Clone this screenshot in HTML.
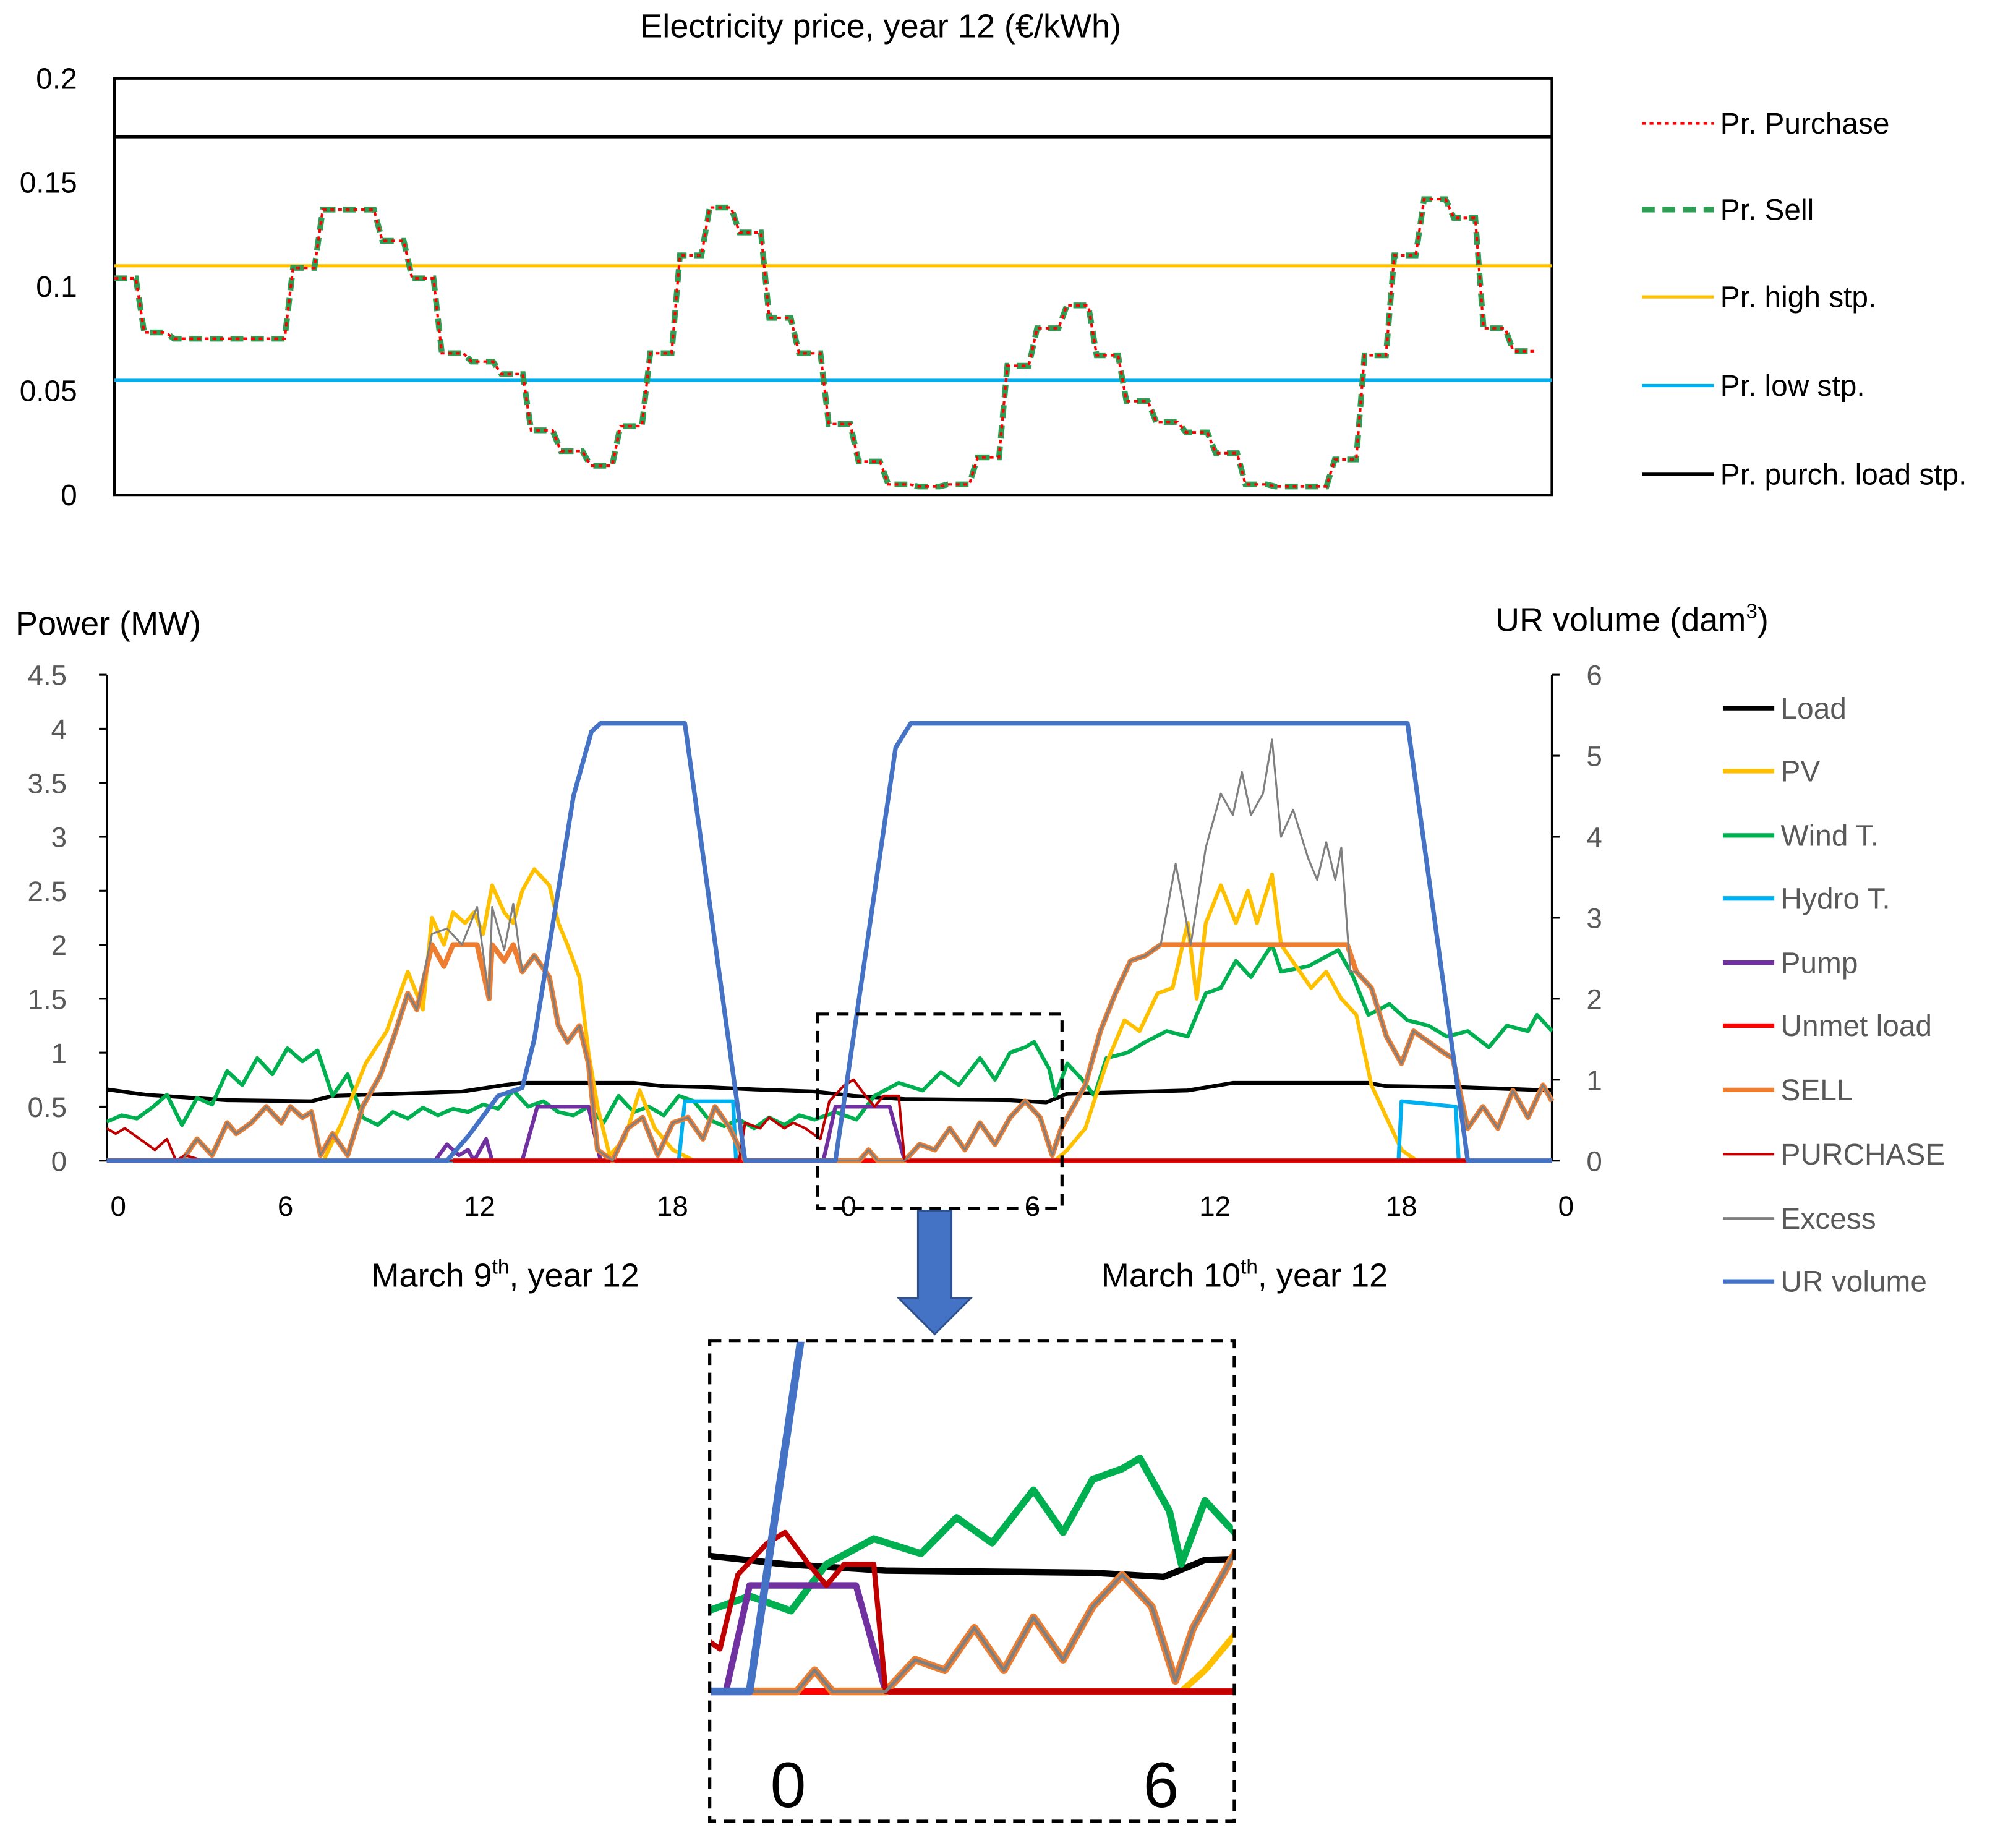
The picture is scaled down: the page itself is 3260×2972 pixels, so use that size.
<!DOCTYPE html>
<html><head><meta charset="utf-8"><style>
html,body{margin:0;padding:0;background:#fff;}
svg{display:block;}
text{font-family:"Liberation Sans",sans-serif;}
</style></head><body>
<svg id="fig" width="3260" height="2972" viewBox="0 0 1568 1430" preserveAspectRatio="none" xmlns="http://www.w3.org/2000/svg">
<defs>
<clipPath id="mainClip"><rect x="83" y="500" width="1126" height="406"/></clipPath>
<clipPath id="insetClip"><rect x="553" y="1044" width="406" height="372"/></clipPath>
</defs>
<g id="topChart"></g>
<g id="bottomChart"></g>
<g id="insetChart"></g>
</svg>
<script>
// ---------- Price chart data ----------
const priceHours = [0,1,2,3,4,5,6,7,8,9,10,11,12,13,14,15,16,17,18,19,20,21,22,23,24,25,26,27,28,29,30,31,32,33,34,35,36,37,38,39,40,41,42,43,44,45,46,47];
const pricePurchase = [0.104,0.078,0.075,0.075,0.075,0.075,0.109,0.137,0.137,0.122,0.104,0.068,0.064,0.058,0.031,0.021,0.014,0.033,0.068,0.115,0.138,0.126,0.085,0.068,0.034,0.016,0.005,0.004,0.005,0.018,0.062,0.080,0.091,0.067,0.045,0.035,0.030,0.020,0.005,0.004,0.004,0.017,0.067,0.115,0.142,0.133,0.080,0.069];
const priceSell = [0.104,0.078,0.075,0.075,0.075,0.075,0.109,0.137,0.137,0.122,0.104,0.068,0.064,0.058,0.031,0.021,0.014,0.033,0.068,0.115,0.138,0.126,0.085,0.068,0.034,0.016,0.005,0.004,0.005,0.018,0.062,0.080,0.091,0.067,0.045,0.035,0.030,0.020,0.005,0.004,0.004,0.017,0.067,0.115,0.142,0.133,0.080,0.069];
const priceHighStp = 0.110;
const priceLowStp = 0.055;
const pricePurchLoadStp = 0.172;
const priceTicks = ["0","0.05","0.1","0.15","0.2"];
const priceTickVals = [0,0.05,0.1,0.15,0.2];

// ---------- Power chart data (t in hours, 0..48) ----------
const loadT = [0,1.3,4,6.8,7.5,11.8,13.2,13.8,17.5,18.5,20,21.5,23.5,24.8,26.5,30,31.2,31.9,35.9,37.4,41.9,42.5,45,48];
const loadV = [0.66,0.61,0.56,0.55,0.60,0.64,0.70,0.72,0.72,0.69,0.68,0.66,0.64,0.60,0.57,0.56,0.54,0.62,0.65,0.72,0.72,0.69,0.68,0.65];
const windT = [0,0.5,1,1.5,2,2.5,3,3.5,4,4.5,5,5.5,6,6.5,7,7.5,8,8.5,9,9.5,10,10.5,11,11.5,12,12.5,13,13.5,14,14.5,15,15.5,16,16.5,17,17.5,18,18.5,19,19.5,20,20.5,21,21.5,22,22.5,23,23.5,24.2,24.9,25.5,26.3,27.1,27.7,28.3,29,29.5,30,30.5,30.8,31.3,31.5,31.9,32.4,32.8,33.2,33.9,34.5,35.2,35.9,36.5,37,37.5,38,38.7,39,39.9,40.9,41.4,41.9,42.6,43.2,43.9,44.5,45.2,45.9,46.5,47.2,47.5,48];
const windV = [0.36,0.42,0.39,0.49,0.61,0.33,0.58,0.52,0.83,0.70,0.95,0.80,1.04,0.92,1.02,0.60,0.80,0.40,0.33,0.45,0.39,0.49,0.42,0.48,0.45,0.52,0.48,0.65,0.50,0.55,0.45,0.42,0.50,0.35,0.60,0.45,0.50,0.42,0.60,0.55,0.38,0.32,0.38,0.30,0.40,0.33,0.42,0.38,0.45,0.38,0.60,0.72,0.65,0.82,0.70,0.95,0.75,1.00,1.05,1.10,0.85,0.60,0.90,0.75,0.60,0.95,1.00,1.10,1.20,1.15,1.55,1.60,1.85,1.70,2.00,1.75,1.80,1.95,1.70,1.35,1.45,1.30,1.25,1.15,1.20,1.05,1.25,1.20,1.35,1.20];
const pvT = [0,7.2,7.8,8.6,9.3,10,10.5,10.8,11.2,11.5,11.9,12.2,12.5,12.8,13.2,13.5,13.8,14.2,14.7,15,15.3,15.7,16,16.3,16.7,17.2,17.7,18.2,18.8,19.5,31.5,31.9,32.5,33.2,33.8,34.3,34.9,35.4,35.9,36.2,36.5,37,37.5,37.9,38.2,38.7,39,39.5,40,40.5,41,41.5,42,42.5,43,43.5,48];
const pvV = [0,0,0.35,0.90,1.20,1.75,1.40,2.25,2.00,2.30,2.20,2.30,2.10,2.55,2.30,2.20,2.50,2.70,2.55,2.20,2.00,1.70,1.00,0.50,0.05,0.20,0.65,0.30,0.10,0,0,0.10,0.30,0.90,1.30,1.20,1.55,1.60,2.20,1.50,2.20,2.55,2.20,2.50,2.20,2.65,2.00,1.80,1.60,1.75,1.50,1.35,0.70,0.40,0.10,0,0];
const sellT = [0,2.5,3,3.5,4,4.3,4.8,5.3,5.8,6.1,6.5,6.8,7.1,7.5,8,8.5,9.1,9.6,10,10.3,10.8,11.2,11.5,12.3,12.7,12.8,13.2,13.5,13.8,14.2,14.7,15,15.3,15.7,16,16.3,16.8,17.3,17.8,18.3,18.8,19.3,19.8,20.2,20.7,21.2,25.0,25.3,25.6,26.5,27,27.5,28,28.5,29,29.5,30,30.5,31,31.4,31.7,32,32.5,33,33.5,34,34.5,35,41.2,41.5,42,42.5,43,43.4,43.9,44.4,44.7,45.2,45.7,46.2,46.7,47.2,47.7,48];
const sellV = [0,0,0.20,0.05,0.35,0.25,0.35,0.50,0.35,0.50,0.40,0.45,0.05,0.25,0.05,0.50,0.80,1.20,1.55,1.40,2.00,1.80,2.00,2.00,1.50,2.00,1.85,2.00,1.75,1.90,1.70,1.25,1.10,1.25,0.90,0.10,0,0.30,0.40,0.05,0.35,0.40,0.20,0.50,0.30,0,0,0.10,0,0,0.15,0.10,0.30,0.10,0.35,0.15,0.40,0.55,0.40,0.05,0.30,0.45,0.70,1.20,1.55,1.85,1.90,2.00,2.00,1.75,1.60,1.15,0.90,1.20,1.10,1.00,0.95,0.30,0.50,0.30,0.65,0.40,0.70,0.55];
const excessT = [0,2.5,3,3.5,4,4.3,4.8,5.3,5.8,6.1,6.5,6.8,7.1,7.5,8,8.5,9.1,9.6,10,10.3,10.8,11.3,11.8,12.3,12.7,12.8,13.2,13.5,13.8,14.2,14.7,15,15.3,15.7,16,16.3,16.8,17.3,17.8,18.3,18.8,19.3,19.8,20.2,20.7,21.2,25.0,25.3,25.6,26.5,27,27.5,28,28.5,29,29.5,30,30.5,31,31.4,31.7,32,32.5,33,33.5,34,34.5,35,35.5,36,36.5,37,37.4,37.7,38,38.4,38.7,39,39.4,39.9,40.2,40.5,40.8,41,41.3,41.5,42,42.5,43,43.4,43.9,44.4,44.7,45.2,45.7,46.2,46.7,47.2,47.7,48];
const excessV = [0,0,0.20,0.05,0.35,0.25,0.35,0.50,0.35,0.50,0.40,0.45,0.05,0.25,0.05,0.50,0.80,1.20,1.55,1.40,2.10,2.15,2.00,2.35,1.50,2.35,1.95,2.38,1.75,1.90,1.70,1.25,1.10,1.25,0.90,0.10,0,0.30,0.40,0.05,0.35,0.40,0.20,0.50,0.30,0,0,0.10,0,0,0.15,0.10,0.30,0.10,0.35,0.15,0.40,0.55,0.40,0.05,0.30,0.45,0.70,1.20,1.55,1.85,1.90,2.00,2.75,2.00,2.90,3.40,3.20,3.60,3.20,3.40,3.90,3.00,3.25,2.80,2.60,2.95,2.60,2.90,1.75,1.75,1.60,1.15,0.90,1.20,1.10,1.00,0.95,0.30,0.50,0.30,0.65,0.40,0.70,0.55];
const hydroT = [0,19.0,19.2,20.8,20.9,42.9,43.0,44.8,44.9,48];
const hydroV = [0,0,0.55,0.55,0,0,0.55,0.50,0,0];
const pumpT = [10.9,11.3,11.7,12.0,12.2,12.6,12.8,13.3,13.8,14.3,16.0,16.4,23.8,24.2,26.0,26.5];
const pumpV = [0,0.15,0.05,0.10,0,0.20,0,0,0,0.50,0.50,0,0,0.50,0.50,0];
const unmetT = [11.5,45.2];
const unmetV = [0,0];
const purchaseT = [0,0.3,0.6,1.1,1.6,2.0,2.3,2.6,3.2,21.0,21.2,21.7,22.0,22.5,22.8,23.2,23.7,24.0,24.5,24.8,25.2,25.5,25.8,26.3,26.5,48];
const purchaseV = [0.30,0.25,0.30,0.20,0.10,0.20,0,0.05,0,0,0.35,0.30,0.40,0.30,0.35,0.30,0.20,0.55,0.70,0.75,0.60,0.50,0.60,0.60,0,0];
const urT = [0,11.3,12,13,13.8,14.2,15.5,16.1,16.4,19.2,21.2,24.2,26.2,26.7,43.2,45.2,48];
const urV = [0,0,0.3,0.8,0.9,1.5,4.5,5.3,5.4,5.4,0,0,5.1,5.4,5.4,0,0];
const leftTicks = ["0","0.5","1","1.5","2","2.5","3","3.5","4","4.5"];
const leftTickVals = [0,0.5,1,1.5,2,2.5,3,3.5,4,4.5];
const rightTicks = ["0","1","2","3","4","5","6"];
const rightTickVals = [0,1,2,3,4,5,6];
const xTickLabels = ["0","6","12","18","0","6","12","18","0"];
const xTickHours = [0,6,12,18,24,30,36,42,48];

const NS = "http://www.w3.org/2000/svg";
function mk(parent, tag, attrs, txt) {
  const el = document.createElementNS(NS, tag);
  for (const k in attrs) el.setAttribute(k, attrs[k]);
  if (txt !== undefined) el.textContent = txt;
  parent.appendChild(el);
  return el;
}
function pathD(ts, vs, fx, fy) {
  return ts.map((tt, i) => (i ? "L" : "M") + fx(tt).toFixed(2) + " " + fy(vs[i]).toFixed(2)).join(" ");
}

// ---------- TOP CHART ----------
const topG = document.getElementById("topChart");
const pX = h => 89 + h * 23.15;
const pY = v => 385 - v * 1620;
let el0 = mk(topG, "text", {x: 685, y: 29, "text-anchor": "middle", "font-size": 26, fill: "#000"}, "Electricity price, year 12 (€/kWh)");


let fr = mk(topG, "rect", {x: 89, y: 61, width: 1118, height: 324, fill: "none", stroke: "#000", "stroke-width": 2});


priceTickVals.forEach((v, i) => {
  const el = mk(topG, "text", {x: 60, y: pY(v) + 8, "text-anchor": "end", "font-size": 23, fill: "#000"}, priceTicks[i]);
  
  
});
function hline(parent, v, color, name) {
  const el = mk(parent, "line", {x1: 89, x2: 1207, y1: pY(v), y2: pY(v), stroke: color, "stroke-width": 2.5});
  
  
}
hline(topG, pricePurchLoadStp, "#000", "purch-load-setpoint-line");
hline(topG, priceHighStp, "#ffc000", "high-setpoint-line");
hline(topG, priceLowStp, "#00b0f0", "low-setpoint-line");
function stepD(vals) {
  let d = "";
  vals.forEach((v, i) => {
    const h = priceHours[i];
    d += (i ? "L" : "M") + pX(h).toFixed(2) + " " + pY(v).toFixed(2) + " L" + pX(h + 0.72).toFixed(2) + " " + pY(v).toFixed(2) + " ";
  });
  return d;
}
let ps = mk(topG, "path", {d: stepD(priceSell), fill: "none", stroke: "#2e9e55", "stroke-width": 4.5, "stroke-dasharray": "10 6"});


let pp = mk(topG, "path", {d: stepD(pricePurchase), fill: "none", stroke: "#ff0000", "stroke-width": 2, "stroke-dasharray": "3 3"});


const topLegend = [
  {label: "Pr. Purchase", color: "#ff0000", w: 2, dash: "3 3", y: 96},
  {label: "Pr. Sell", color: "#2e9e55", w: 4.5, dash: "10 6", y: 163},
  {label: "Pr. high stp.", color: "#ffc000", w: 2.5, dash: "none", y: 231},
  {label: "Pr. low stp.", color: "#00b0f0", w: 2.5, dash: "none", y: 300},
  {label: "Pr. purch. load stp.", color: "#000", w: 2.5, dash: "none", y: 369}
];
topLegend.forEach(L => {
  const g = mk(topG, "g", {});
  
  
  mk(g, "line", {x1: 1277, x2: 1333, y1: L.y, y2: L.y, stroke: L.color, "stroke-width": L.w, "stroke-dasharray": L.dash});
  mk(g, "text", {x: 1338, y: L.y + 8, "font-size": 23, fill: "#000"}, L.label);
});

// ---------- BOTTOM CHART ----------
const botG = document.getElementById("bottomChart");
const X = tt => 83 + tt * 23.42;
const Y = v => 903 - v * 84;
const YR = v => 903 - v * 63;
let el1;
el1 = mk(botG, "text", {x: 12, y: 494, "font-size": 26, fill: "#000"}, "Power (MW)");


el1 = mk(botG, "text", {x: 1163, y: 491, "font-size": 26, fill: "#000"});


mk(el1, "tspan", {}, "UR volume (dam");
mk(el1, "tspan", {dy: -10, "font-size": 16}, "3");
mk(el1, "tspan", {dy: 10}, ")");
mk(botG, "line", {x1: 83, x2: 83, y1: 525, y2: 903, stroke: "#000", "stroke-width": 1.5});
mk(botG, "line", {x1: 1207, x2: 1207, y1: 525, y2: 903, stroke: "#000", "stroke-width": 1.5});
mk(botG, "line", {x1: 83, x2: 1207, y1: 903, y2: 903, stroke: "#bfbfbf", "stroke-width": 1.5});
leftTickVals.forEach((v, i) => {
  mk(botG, "line", {x1: 77, x2: 83, y1: Y(v), y2: Y(v), stroke: "#000", "stroke-width": 1.5});
  const el = mk(botG, "text", {x: 52, y: Y(v) + 8, "text-anchor": "end", "font-size": 22, fill: "#595959"}, leftTicks[i]);
  
  
});
rightTickVals.forEach((v, i) => {
  mk(botG, "line", {x1: 1207, x2: 1213, y1: YR(v), y2: YR(v), stroke: "#000", "stroke-width": 1.5});
  const el = mk(botG, "text", {x: 1240, y: YR(v) + 8, "text-anchor": "middle", "font-size": 22, fill: "#595959"}, rightTicks[i]);
  
  
});
const xLabelPos = [92, 222, 373, 523, 660, 803, 945, 1090, 1218];
xTickHours.forEach((h, i) => {
  const el = mk(botG, "text", {x: xLabelPos[i], y: 946, "text-anchor": "middle", "font-size": 22, fill: "#000"}, xTickLabels[i]);
  
  
});
el1 = mk(botG, "text", {x: 393, y: 1001, "text-anchor": "middle", "font-size": 26, fill: "#000"});


mk(el1, "tspan", {}, "March 9");
mk(el1, "tspan", {dy: -10, "font-size": 16}, "th");
mk(el1, "tspan", {dy: 10}, ", year 12");
el1 = mk(botG, "text", {x: 968, y: 1001, "text-anchor": "middle", "font-size": 26, fill: "#000"});


mk(el1, "tspan", {}, "March 10");
mk(el1, "tspan", {dy: -10, "font-size": 16}, "th");
mk(el1, "tspan", {dy: 10}, ", year 12");

const series = [
  {n: "load-line", T: loadT, V: loadV, c: "#000", w: 3, w2: 5, r: false},
  {n: "wind-line", T: windT, V: windV, c: "#00b050", w: 3, w2: 5.5, r: false},
  {n: "pv-line", T: pvT, V: pvV, c: "#ffc000", w: 3, w2: 5, r: false},
  {n: "hydro-line", T: hydroT, V: hydroV, c: "#00b0f0", w: 3, w2: 5, r: false},
  {n: "pump-line", T: pumpT, V: pumpV, c: "#7030a0", w: 3, w2: 5, r: false},
  {n: "unmet-load-line", T: unmetT, V: unmetV, c: "#ff0000", w: 3.5, w2: 5, r: false},
  {n: "sell-line", T: sellT, V: sellV, c: "#ed7d31", w: 4, w2: 6, r: false},
  {n: "purchase-line", T: purchaseT, V: purchaseV, c: "#c00000", w: 2, w2: 4, r: false},
  {n: "excess-line", T: excessT, V: excessV, c: "#7f7f7f", w: 1.5, w2: 2.5, r: false},
  {n: "ur-volume-line", T: urT, V: urV, c: "#4472c4", w: 3.5, w2: 6, r: true}
];
const mg = mk(botG, "g", {"clip-path": "url(#mainClip)"});
series.forEach(s => {
  const el = mk(mg, "path", {d: pathD(s.T, s.V, X, s.r ? YR : Y), fill: "none", stroke: s.c, "stroke-width": s.w, "stroke-linejoin": "round"});
  
  
});
el1 = mk(botG, "rect", {x: 636, y: 789, width: 190, height: 151, fill: "none", stroke: "#000", "stroke-width": 2.5, "stroke-dasharray": "9 6"});



const botLegend = [
  {label: "Load", c: "#000"}, {label: "PV", c: "#ffc000"}, {label: "Wind T.", c: "#00b050"},
  {label: "Hydro T.", c: "#00b0f0"}, {label: "Pump", c: "#7030a0"}, {label: "Unmet load", c: "#ff0000"},
  {label: "SELL", c: "#ed7d31"}, {label: "PURCHASE", c: "#c00000"}, {label: "Excess", c: "#7f7f7f"}, {label: "UR volume", c: "#4472c4"}
];
const legY = [551, 600, 650, 699, 749, 798, 848, 898, 948, 997];
botLegend.forEach((L, i) => {
  const g = mk(botG, "g", {});
  
  
  mk(g, "line", {x1: 1340, x2: 1380, y1: legY[i], y2: legY[i], stroke: L.c, "stroke-width": (L.label === "Excess" || L.label === "PURCHASE") ? 2 : 3.5});
  mk(g, "text", {x: 1385, y: legY[i] + 8, "font-size": 23, fill: "#595959"}, L.label);
});

// Arrow
el1 = mk(botG, "path", {d: "M714 942 L740 942 L740 1010 L755 1010 L727 1038 L699 1010 L714 1010 Z", fill: "#4472c4", stroke: "#2f528f", "stroke-width": 1.5});



// ---------- INSET ----------
const insG = document.getElementById("insetChart");
const IX = tt => 583 + (tt - 24.2) * 46;
const IY = v => 1316 - v * 165;
const IYR = v => 1316 - v * 0.75 * 165;
const ig = mk(insG, "g", {"clip-path": "url(#insetClip)"});
series.forEach(s => {
  const el = mk(ig, "path", {d: pathD(s.T, s.V, IX, s.r ? IYR : IY), fill: "none", stroke: s.c, "stroke-width": s.w2, "stroke-linejoin": "round"});
  
  
});
el1 = mk(insG, "rect", {x: 552, y: 1043, width: 408, height: 374, fill: "none", stroke: "#000", "stroke-width": 2.5, "stroke-dasharray": "9 6"});


el1 = mk(insG, "text", {x: 613, y: 1406, "text-anchor": "middle", "font-size": 50, fill: "#000"}, "0");


el1 = mk(insG, "text", {x: 903, y: 1406, "text-anchor": "middle", "font-size": 50, fill: "#000"}, "6");


</script>
</body></html>
